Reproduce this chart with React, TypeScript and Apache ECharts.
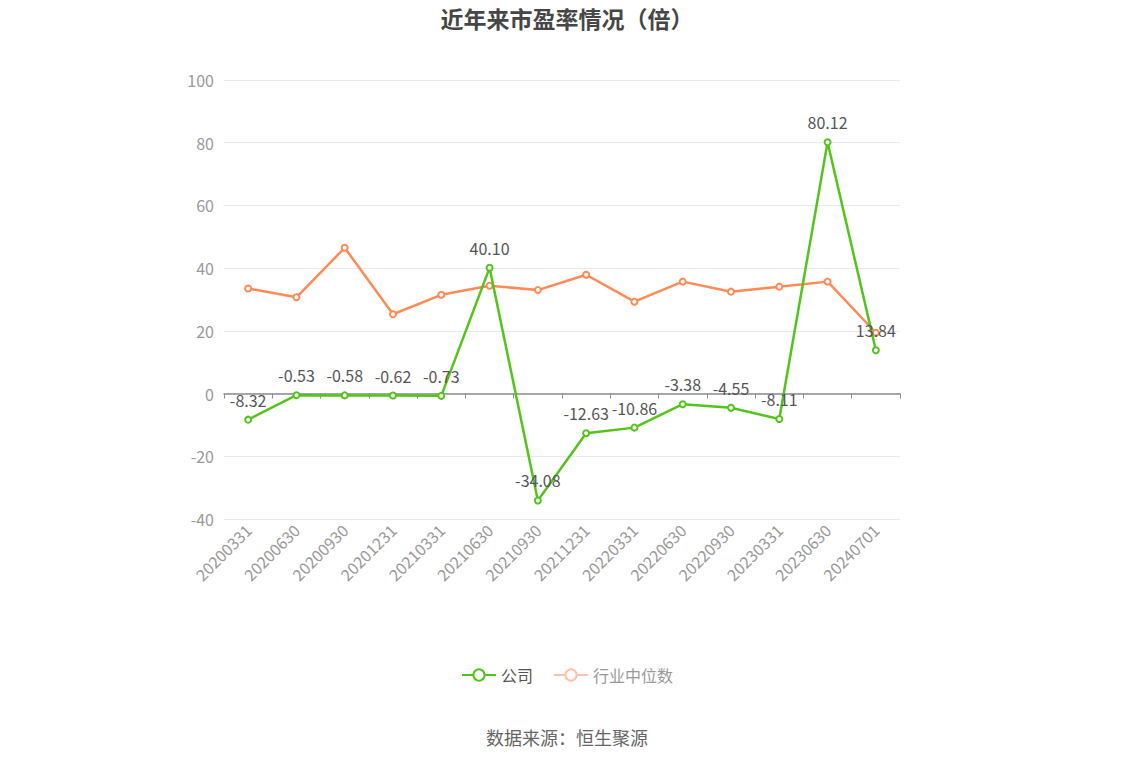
import { useRef, useEffect } from 'react'
import * as echarts from 'echarts'

// ── 数据 ─────────────────────────────────
const categories = [
  '20200331', '20200630', '20200930', '20201231', '20210331', '20210630', '20210930',
  '20211231', '20220331', '20220630', '20220930', '20230331', '20230630', '20240701',
]
const companyPE = [-8.32, -0.53, -0.58, -0.62, -0.73, 40.1, -34.08, -12.63, -10.86, -3.38, -4.55, -8.11, 80.12, 13.84]
const industryPE = [33.5, 30.7, 46.5, 25.3, 31.5, 34.4, 33.0, 37.9, 29.3, 35.7, 32.5, 34.1, 35.7, 19.4]
const seriesNames = ['公司', '行业中位数']

const FONT = '"Noto Sans CJK SC", "Noto Sans", sans-serif'

function buildOption() {
  return {
    animation: false,
    backgroundColor: '#fff',
    textStyle: { fontFamily: FONT },
    title: {
      text: '近年来市盈率情况（倍）',
      left: 'center',
      top: 1,
      textStyle: { fontSize: 23, fontWeight: 'bold', color: '#464646', fontFamily: FONT },
    },
    legend: {
      bottom: 78,
      left: 'center',
      itemWidth: 34,
      itemHeight: 14,
      itemGap: 20,
      textStyle: { fontSize: 16, color: '#555', fontFamily: FONT },
      data: [
        { name: seriesNames[0] },
        {
          name: seriesNames[1],
          itemStyle: { color: '#FDC2A9', borderColor: '#FDC2A9' },
          lineStyle: { color: '#FDC2A9' },
          textStyle: { color: '#999' },
        },
      ],
    },
    graphic: [{
      type: 'text',
      left: 'center',
      top: 728,
      style: { text: '数据来源：恒生聚源', fontSize: 18, fill: '#666', fontFamily: FONT },
    }],
    grid: { left: 224, right: 234, top: 80, bottom: 247, containLabel: false },
    xAxis: {
      type: 'category',
      data: categories,
      boundaryGap: true,
      axisLine: { onZero: true, lineStyle: { color: '#8a8d94', width: 1.5 } },
      axisTick: { show: true, length: 5, lineStyle: { color: '#8a8d94' } },
      axisLabel: { rotate: 45, fontSize: 16, color: '#999', margin: 8, interval: 0 },
    },
    yAxis: {
      type: 'value',
      min: -40,
      max: 100,
      interval: 20,
      axisLine: { show: false },
      axisTick: { show: false },
      axisLabel: { fontSize: 16, color: '#999', margin: 10 },
      splitLine: { lineStyle: { color: '#E6E9F2' } },
    },
    series: [
      {
        name: seriesNames[0],
        type: 'line',
        data: companyPE,
        symbol: 'emptyCircle',
        symbolSize: 6,
        z: 3,
        itemStyle: { color: '#52C41A', borderWidth: 2 },
        lineStyle: { color: '#52C41A', width: 2.5 },
        label: {
          show: true,
          position: 'top',
          distance: 8,
          fontSize: 16,
          color: '#555',
          formatter: (p: { value: number }) => p.value.toFixed(2),
        },
      },
      {
        name: seriesNames[1],
        type: 'line',
        data: industryPE,
        symbol: 'emptyCircle',
        symbolSize: 6,
        z: 2,
        itemStyle: { color: '#FF8A55', borderWidth: 2 },
        lineStyle: { color: '#FF8A55', width: 2.5 },
      },
    ],
  }
}

export default function App() {
  const containerRef = useRef<HTMLDivElement>(null)

  useEffect(() => {
    if (!containerRef.current) return
    const chart = echarts.init(containerRef.current, null, { renderer: 'svg' })
    chart.setOption(buildOption())
    return () => chart.dispose()
  }, [])

  return (
    <div
      ref={containerRef}
      style={{ position: 'absolute', left: 0, top: 0, width: '1134px', height: '766px', background: '#fff' }}
    />
  )
}
